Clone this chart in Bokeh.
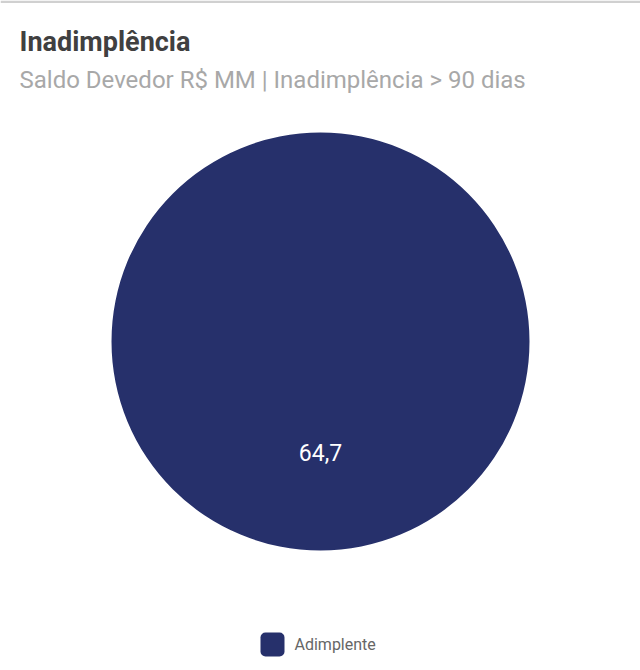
import math
from bokeh.plotting import figure
from bokeh.models import Range1d, ColumnDataSource
from bokeh.core.properties import value
from bokeh.embed import file_html
from bokeh.resources import INLINE

# ---- data ----
categories = ["Adimplente"]
values = [64.7]
labels = ["64,7"]
colors = ["#26306b"]
title_text = "Inadimplência"
subtitle_text = "Saldo Devedor R$ MM | Inadimplência > 90 dias"

W, H = 640, 670
p = figure(width=W, height=H, output_backend="svg", toolbar_location=None,
           x_range=Range1d(0, W), y_range=Range1d(0, H), min_border=0)
p.axis.visible = False
p.grid.visible = False
p.outline_line_color = None
p.background_fill_color = "white"
p.border_fill_color = "white"

# top border line
p.quad(left=[0], right=[W], bottom=[H - 2.5], top=[H], fill_color="#d0d0d0", line_color=None)

# pie geometry (pixel-like data coords)
cx, cy, r = 320, 329, 209
total = sum(values)
starts, ends, lx, ly = [], [], [], []
acc = 0.0
for v in values:
    a0 = math.pi / 2 - 2 * math.pi * acc / total
    a1 = math.pi / 2 - 2 * math.pi * (acc + v) / total
    starts.append(a1)
    ends.append(a0)
    mid = (a0 + a1) / 2
    lx.append(cx + 0.53 * r * math.cos(mid))
    ly.append(cy + 0.53 * r * math.sin(mid))
    acc += v

src = ColumnDataSource(dict(cat=categories, val=values, start=starts, end=ends,
                            color=colors, lx=lx, ly=ly, lab=labels,
                            x=[cx] * len(values), y=[cy] * len(values)))
if len(values) == 1:
    p.circle(x="x", y="y", radius=r, fill_color="color", line_color=None, source=src)
else:
    p.wedge(x="x", y="y", radius=r, start_angle="start", end_angle="end",
            fill_color="color", line_color="white", source=src)

p.text(x="lx", y="ly", text="lab", source=src, text_color="white",
       text_font=value("Roboto"), text_font_size="23px",
       text_align="center", text_baseline="middle")

# title / subtitle
p.text(x=[19], y=[629], text=[title_text], text_font=value("Roboto"),
       text_font_size="27px", text_font_style="bold", text_color="#404040",
       text_baseline="alphabetic")
p.text(x=[19], y=[591], text=[subtitle_text], text_font=value("Roboto"),
       text_font_size="24px", text_color="#a8a8a8", text_baseline="alphabetic")

# legend
lgx, lgy = 272, 26
p.quad(left=[lgx - 12], right=[lgx + 12], bottom=[lgy - 12], top=[lgy + 12],
       fill_color=colors[0], line_color=None, border_radius=5)
p.text(x=[lgx + 22], y=[lgy], text=[categories[0]], text_font=value("Roboto"),
       text_font_size="16px", text_color="#666666", text_baseline="middle")

open("out.html", "w").write(file_html(p, INLINE))
